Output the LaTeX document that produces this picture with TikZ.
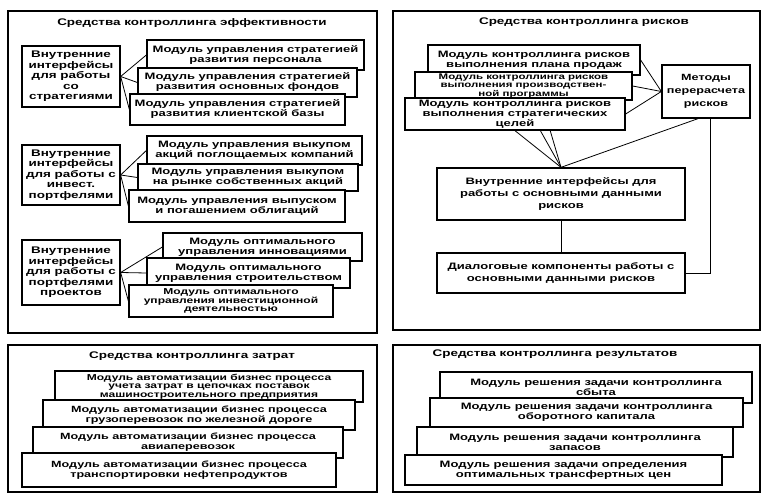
\documentclass[tikz,border=0pt]{standalone}
\usepackage{fontspec}
\setmainfont{Liberation Sans}[FakeStretch=1.4]
\usetikzlibrary{backgrounds}
\tikzset{
  box/.style={draw, line width=1.3pt, fill=white, inner sep=1pt, align=center,
    font=\bfseries\fontsize{9.3}{10}\selectfont},
  lbox/.style={font=\bfseries\fontsize{9.6}{10.5}\selectfont},
  tight/.style={font=\bfseries\fontsize{8.6}{8.4}\selectfont},
  panel/.style={draw, line width=1.7pt},
  ttl/.style={font=\bfseries\fontsize{9.6}{10}\selectfont, inner sep=0pt},
  conn/.style={line width=0.8pt},
}
\newcommand\bx[7][]{\node[box,#1,minimum width={(#5-#3)*1pt},minimum height={(#6-#4)*1pt}] (#2) at ({(#3+#5)/2},{(#4+#6)/2}) {#7};}
\begin{document}
\begin{tikzpicture}[x=1pt,y=-1pt]
\useasboundingbox (0,0) rectangle (761,494);
% panels
\draw[panel] (8,11) rectangle (377,333);
\draw[panel] (8,345) rectangle (377,492);
\draw[panel] (393,11) rectangle (760,330);
\draw[panel] (393,345) rectangle (760,492);
% titles
\node[ttl] (t1) at (192,23) {Средства контроллинга эффективности};
\node[ttl] (t2) at (584,22) {Средства контроллинга рисков};
\node[ttl] (t3) at (192,356) {Средства контроллинга затрат};
\node[ttl] (t4) at (555,354) {Средства контроллинга результатов};
% group 1
\bx[lbox]{L1}{22}{46}{120}{107}{Внутренние\\интерфейсы\\для работы\\со\\стратегиями}
\bx{M1}{147}{40}{364}{70}{Модуль управления стратегией\\развития персонала}
\bx{M2}{138}{68}{357}{97}{Модуль управления стратегией\\развития основных фондов}
\bx{M3}{130}{94}{345}{125}{Модуль управления стратегией\\развития клиентской базы}
% group 2
\bx[lbox]{L2}{22}{145}{120}{205}{Внутренние\\интерфейсы\\для работы с\\инвест.\\портфелями}
\bx{M4}{147}{136}{362}{165}{Модуль управления выкупом\\акций поглощаемых компаний}
\bx{M5}{138}{164}{358}{191}{Модуль управления выкупом\\на рынке собственных акций}
\bx{M6}{129}{190}{345}{222}{Модуль управления выпуском\\и погашением облигаций}
% group 3
\bx[lbox]{L3}{22}{240}{120}{305}{Внутренние\\интерфейсы\\для работы с\\портфелями\\проектов}
\bx{M7}{163}{233}{362}{261}{Модуль оптимального\\управления инновациями}
\bx{M8}{147}{258}{350}{288}{Модуль оптимального\\управления строительством}
\bx[tight]{M9}{129}{285}{333}{317}{Модуль оптимального\\управления инвестиционной\\деятельностью}
\draw[conn] (L1.east) -- (M1.west);
\draw[conn] (L1.east) -- (M2.west);
\draw[conn] (L1.east) -- (M3.west);
\draw[conn] (L2.east) -- (M4.west);
\draw[conn] (L2.east) -- (M5.west);
\draw[conn] (L2.east) -- (M6.west);
\draw[conn] (L3.east) -- (M7.west);
\draw[conn] (L3.east) -- (M8.west);
\draw[conn] (L3.east) -- (M9.west);
% costs
\bx[tight]{C1}{55}{371}{363}{402}{Модуль автоматизации бизнес процесса\\учета затрат в цепочках поставок\\машиностроительного предприятия}
\bx[font=\bfseries\fontsize{9}{10}\selectfont]{C2}{43}{400}{355}{430}{Модуль автоматизации бизнес процесса\\грузоперевозок по железной дороге}
\bx[font=\bfseries\fontsize{9}{10}\selectfont]{C3}{33}{427}{343}{458}{Модуль автоматизации бизнес процесса\\авиаперевозок}
\bx[font=\bfseries\fontsize{9}{10}\selectfont]{C4}{22}{453}{336}{487}{Модуль автоматизации бизнес процесса\\транспортировки нефтепродуктов}
% risks
\bx{R1}{428}{45}{640}{75}{Модуль контроллинга рисков\\выполнения плана продаж}
\bx[font=\bfseries\fontsize{8.2}{7.8}\selectfont]{R2}{415}{72}{632}{100}{Модуль контроллинга рисков\\выполнения производствен-\\ной программы}
\bx{R3}{405}{98}{625}{130}{Модуль контроллинга рисков\\выполнения стратегических\\целей}
\bx[font=\bfseries\fontsize{9}{13}\selectfont]{Met}{662}{65}{750}{118}{Методы\\перерасчета\\рисков}
\bx[font=\bfseries\fontsize{9.3}{12}\selectfont]{VN}{437}{168}{685}{220}{Внутренние интерфейсы для\\работы с основными данными\\рисков}
\bx[font=\bfseries\fontsize{9.3}{12}\selectfont]{DI}{437}{253}{685}{293}{Диалоговые компоненты работы с\\основными данными рисков}
\draw[conn] (R1.east) -- (Met.west);
\draw[conn] (R2.east) -- (Met.west);
\draw[conn] (R3.east) -- (Met.west);
\draw[conn] ([xshift=-8pt]Met.south) -- (VN.north);
\draw[conn] ([xshift=4pt]Met.south) |- (DI.east);
\draw[conn] (VN.south) -- (DI.north);
% results
\bx{S1}{440}{372}{752}{403}{Модуль решения задачи контроллинга\\сбыта}
\bx{S2}{430}{398}{743}{427}{Модуль решения задачи контроллинга\\оборотного капитала}
\bx{S3}{417}{427}{733}{457}{Модуль решения задачи контроллинга\\запасов}
\bx{S4}{405}{455}{722}{485}{Модуль решения задачи определения\\оптимальных трансфертных цен}
\begin{pgfonlayer}{background}
\fill[white] (0,0) rectangle (761,494);
\draw[conn] (R1.south) -- (VN.north);
\draw[conn] (R2.south) -- (VN.north);
\draw[conn] (R3.south) -- (VN.north);
\end{pgfonlayer}
\end{tikzpicture}
\end{document}
